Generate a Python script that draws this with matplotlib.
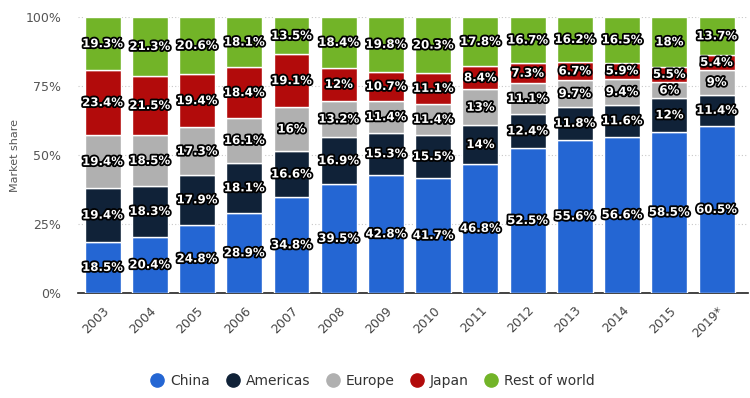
import matplotlib
matplotlib.use("Agg")
from matplotlib import pyplot as plt
from matplotlib import patheffects as pe
from matplotlib.lines import Line2D
import numpy as np

years = ["2003", "2004", "2005", "2006", "2007", "2008", "2009",
         "2010", "2011", "2012", "2013", "2014", "2015", "2019*"]

china = [18.5, 20.4, 24.8, 28.9, 34.8, 39.5, 42.8, 41.7, 46.8, 52.5, 55.6, 56.6, 58.5, 60.5]
americas = [19.4, 18.3, 17.9, 18.1, 16.6, 16.9, 15.3, 15.5, 14, 12.4, 11.8, 11.6, 12, 11.4]
europe = [19.4, 18.5, 17.3, 16.1, 16, 13.2, 11.4, 11.4, 13, 11.1, 9.7, 9.4, 6, 9]
japan = [23.4, 21.5, 19.4, 18.4, 19.1, 12, 10.7, 11.1, 8.4, 7.3, 6.7, 5.9, 5.5, 5.4]
rest = [19.3, 21.3, 20.6, 18.1, 13.5, 18.4, 19.8, 20.3, 17.8, 16.7, 16.2, 16.5, 18, 13.7]

series = [("China", china, "#2466d3"),
          ("Americas", americas, "#102238"),
          ("Europe", europe, "#b0b0b0"),
          ("Japan", japan, "#b20b0b"),
          ("Rest of world", rest, "#72b428")]

fig = plt.figure(figsize=(7.5, 3.98), dpi=100)
ax = fig.add_axes([0.104, 0.264, 0.893, 0.693])

x = np.arange(len(years))
totals = np.sum([s[1] for s in series], axis=0)
bottom = np.zeros(len(years))
stroke = [pe.withStroke(linewidth=2.6, foreground="black")]

for name, vals, color in series:
    vals = np.array(vals, dtype=float)
    h = vals / totals * 100
    ax.bar(x, h, bottom=bottom, width=0.76, color=color,
           edgecolor="white", linewidth=1.0, zorder=3)
    for xi, b, hi, v in zip(x, bottom, h, vals):
        ax.text(xi, b + hi / 2, f"{v:g}%", ha="center", va="center",
                color="white", fontsize=8.5, fontweight="bold",
                path_effects=stroke, zorder=5)
    bottom += h

ax.set_xlim(-0.52, len(years) - 1 + 0.66)
ax.set_ylim(0, 100)
ax.set_yticks([0, 25, 50, 75, 100])
ax.set_yticklabels(["0%", "25%", "50%", "75%", "100%"])
ax.yaxis.grid(True, linestyle=(0, (1, 2)), color="#c8c8c8", linewidth=0.8, zorder=0)
ax.set_axisbelow(True)

ax.set_xticks(x)
ax.set_xticklabels(years, rotation=45, ha="right", rotation_mode="anchor")
ax.tick_params(axis="x", length=0, pad=8, labelsize=9, labelcolor="#444444")
ax.tick_params(axis="y", length=0, pad=12, labelsize=9, labelcolor="#555555")

for side in ["top", "right", "left"]:
    ax.spines[side].set_visible(False)
ax.spines["bottom"].set_color("#222222")
ax.spines["bottom"].set_linewidth(1.2)

ax.set_ylabel("Market share", fontsize=8, color="#555555")
ax.yaxis.set_label_coords(-0.086, 0.5)

handles = [Line2D([], [], marker="o", linestyle="", markersize=9.5,
                  markerfacecolor=c, markeredgecolor=c) for _, _, c in series]
fig.legend(handles, [s[0] for s in series], loc="center",
           bbox_to_anchor=(0.497, 0.043), ncol=5, frameon=False,
           fontsize=10, handlelength=1.0, handletextpad=0.45,
           columnspacing=1.1, labelcolor="#333333")

fig.savefig("out.png", dpi=100)
